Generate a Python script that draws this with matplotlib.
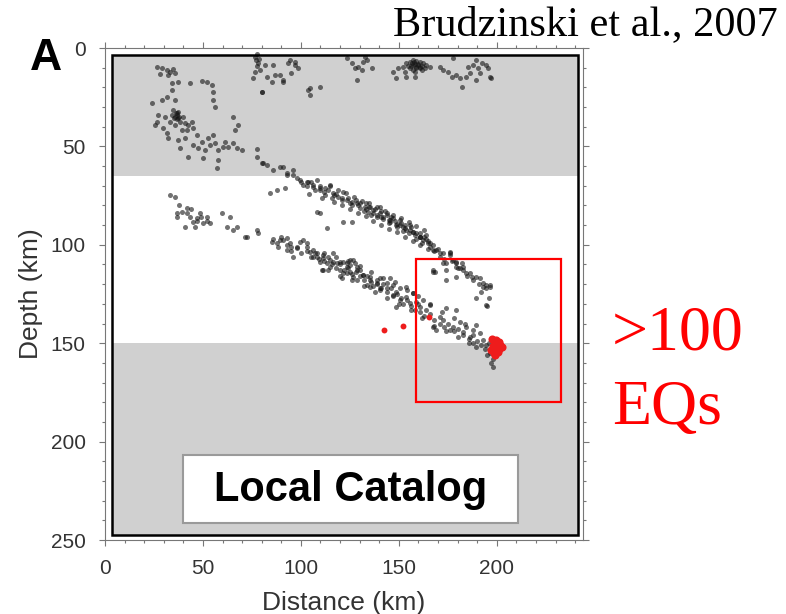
import numpy as np
import matplotlib.pyplot as plt
from matplotlib.patches import Rectangle
from matplotlib.ticker import MultipleLocator

plt.rcParams["font.family"] = ["Liberation Sans", "DejaVu Sans"]

# hypocentres: (distance km, depth km)
shallow = [
    (26.4, 9.5), (28.9, 10.3), (31.5, 11.2), (34.9, 10.8), (28.1, 13.2), (32.3, 13.7), (35.7, 12.9), (33.2, 12.0),
    (37.4, 17.1), (34.0, 17.9), (34.0, 21.3), (31.5, 24.7), (28.9, 26.4), (23.8, 27.8), (35.7, 26.4),
    (43.4, 17.9), (49.3, 16.6), (51.9, 17.1), (54.4, 18.8), (55.3, 22.2), (55.3, 26.4), (56.1, 30.1),
    (34.9, 31.5), (36.6, 33.2), (35.7, 34.9), (37.4, 35.7), (34.0, 34.0), (38.3, 37.4), (40.0, 34.9),
    (40.8, 38.3), (42.5, 39.1), (44.2, 37.4), (45.1, 40.8), (33.2, 37.4), (30.6, 34.9), (27.2, 34.0),
    (26.4, 37.4), (25.5, 39.1), (29.8, 40.8), (31.5, 43.3), (32.3, 45.9), (35.7, 39.1), (39.1, 41.7),
    (41.7, 41.7), (36.0, 33.0), (37.0, 34.0), (36.5, 36.0), (38.0, 35.0), (35.0, 35.5), (37.5, 32.5),
    (37.4, 46.7), (40.8, 45.9), (38.3, 51.0), (42.5, 55.2), (46.8, 44.2), (49.3, 47.6), (47.6, 51.0),
    (51.0, 51.8), (52.7, 45.9), (55.3, 44.2), (56.1, 48.4), (57.8, 51.8), (60.4, 50.1), (62.9, 50.1),
    (65.5, 48.4), (67.2, 51.0), (69.7, 51.8), (66.3, 41.7), (68.0, 39.1), (65.5, 34.9), (57.8, 56.9),
    (57.0, 61.1), (50.2, 56.0), (77.4, 51.5), (61.2, 47.6), (53.6, 49.3), (45.1, 49.3),
    (76.5, 4.4), (78.2, 7.8), (79.1, 11.2), (75.7, 15.4), (79.9, 22.2), (82.5, 14.6), (85.0, 17.1),
    (86.7, 13.7), (89.3, 13.7), (91.0, 17.1), (93.5, 7.8), (97.0, 6.9), (98.6, 10.3), (103.7, 21.3),
    (104.6, 23.9), (95.2, 12.9), (81.6, 8.6), (104.6, 20.5), (109.7, 19.7), (85.9, 8.7), (91.0, 16.3),
    (94.4, 6.1), (97.0, 8.7), (80.0, 22.2), (77.5, 3.0), (78.5, 5.5), (77.0, 6.0), (77.5, 9.0), (76.8, 12.0),
    (123.3, 5.3), (125.9, 7.8), (127.6, 10.4), (129.3, 9.5), (128.4, 16.3), (131.8, 7.0), (133.5, 6.1),
    (136.1, 10.4), (132.7, 4.4), (131.0, 11.2),
    (147.1, 12.1), (149.7, 10.4), (152.2, 9.5), (153.9, 7.8), (155.6, 7.0), (157.3, 6.1), (159.0, 6.6),
    (160.7, 7.0), (162.4, 7.8), (164.1, 8.7), (165.8, 9.5), (157.3, 8.7), (159.0, 10.4), (161.6, 11.2),
    (155.6, 10.4), (153.1, 12.1), (148.8, 15.4), (153.9, 14.6), (158.2, 14.6), (160.7, 9.5), (163.3, 10.4),
    (156.5, 7.8), (159.9, 8.3), (156.0, 9.0), (157.0, 11.0), (158.0, 8.0), (159.0, 9.5), (160.0, 8.5),
    (161.0, 10.0), (157.5, 7.0), (158.5, 12.0), (154.5, 9.0), (162.0, 9.0),
    (170.9, 9.5), (172.6, 11.2), (175.2, 12.1), (176.9, 14.6), (179.4, 13.7), (181.1, 15.4), (182.0, 19.7),
    (184.5, 14.6), (186.2, 12.9), (188.0, 8.7), (189.6, 6.1), (190.5, 10.4), (192.2, 7.8), (194.7, 8.7),
    (195.6, 10.4), (196.4, 14.6), (197.3, 15.4), (189.6, 16.3), (177.7, 5.3), (185.4, 9.5), (191.3, 12.9),
]

upper_slab = [
    (77.4, 55.2), (79.9, 58.6), (80.6, 58.4), (82.5, 59.5), (85.9, 62.0), (89.3, 60.3), (92.7, 63.7),
    (96.1, 64.5), (99.5, 67.1), (102.9, 67.9), (106.3, 69.6), (109.7, 71.3), (112.2, 74.7), (108.0, 83.2),
    (84.2, 73.8), (88.0, 72.0), (92.0, 71.0),
    (91.0, 60.3), (92.7, 64.5), (96.1, 62.0), (97.8, 66.2), (101.2, 69.6), (103.8, 67.9), (106.3, 70.5),
    (108.0, 67.1), (109.7, 72.1), (112.3, 71.3), (114.8, 69.6), (116.5, 73.8), (119.1, 75.5), (121.6, 73.0),
    (123.3, 77.2), (125.9, 78.1), (128.4, 78.9), (130.1, 81.5), (132.7, 80.6), (134.4, 83.2), (136.9, 82.3),
    (138.6, 84.8), (140.3, 80.6), (142.0, 85.7), (143.7, 84.0), (145.4, 88.2), (147.1, 86.5), (148.8, 89.9),
    (150.5, 87.4), (152.2, 90.8), (153.9, 92.5), (155.6, 89.9), (157.3, 93.3), (159.0, 94.2), (160.7, 95.9),
    (162.4, 97.6), (164.1, 95.0), (165.8, 99.2), (167.5, 100.1), (169.2, 102.6), (172.6, 104.3),
    (176.0, 103.5), (177.7, 107.7), (179.4, 111.1), (182.0, 109.4), (184.5, 114.5), (187.1, 116.2),
    (191.3, 117.0), (194.7, 120.4), (196.4, 121.3), (167.5, 112.8), (174.3, 112.8),
    (109.7, 84.0), (121.6, 88.2), (125.9, 88.2), (113.1, 91.6),
    (135.2, 80.6), (140.3, 84.0), (145.4, 87.4), (150.5, 89.9), (155.6, 92.4), (160.7, 95.8), (165.0, 99.2),
    (167.5, 102.6), (170.9, 104.3), (176.0, 105.1), (179.4, 109.4), (181.1, 111.9), (168.4, 113.6),
    (174.3, 109.4), (186.2, 114.5), (189.6, 116.2), (193.0, 121.2), (194.7, 122.1), (189.6, 127.2),
    (194.7, 130.6), (167.5, 113.7), (172.6, 109.4), (176.0, 104.4), (179.4, 116.2), (182.8, 111.1),
    (193.0, 119.6), (196.4, 120.4), (174.3, 117.9), (179.4, 108.6),
    (118, 74), (121, 77), (124, 76), (126, 80), (128, 77), (130, 79), (132, 83), (133, 79), (135, 81),
    (136, 85), (138, 82), (139, 86), (141, 83), (142, 87), (144, 85), (145, 89), (146, 86), (148, 88),
    (149, 91), (151, 89), (152, 93), (153, 90), (155, 94), (156, 91), (158, 95), (159, 97), (161, 94),
    (162, 99), (163, 96), (165, 98), (166, 101), (168, 103), (170, 102), (171, 106), (173, 107), (177, 108),
    (180, 112), (183, 113), (185, 116), (188, 118), (191, 120), (192, 124), (196, 127), (195, 131),
    (100, 68), (103, 70), (105, 68), (107, 72), (110, 70), (112, 73), (114, 72), (116, 76), (104, 74), (111, 76),
    (115, 70), (119, 72), (123, 73.5), (127, 75.5), (131, 77.5), (135, 79), (139, 81), (143, 83), (147, 85),
    (151, 86.5), (155, 88.5), (159, 90.5), (163, 92.5),
    (117, 78), (121, 80), (125, 82), (129, 84), (133, 85.5), (137, 88), (141, 90), (145, 92), (149, 93.5),
    (153, 96), (157, 98), (161, 100), (165, 102),
    (117, 74.5), (121, 76), (125, 78.5), (129, 80), (133, 82), (137, 84), (141, 86), (145, 87.5),
    (149, 89.5), (153, 91.5), (157, 93.5), (161, 96), (164, 97),
]

lower_slab = [
    (33.2, 74.7), (35.8, 75.6), (36.6, 84.0), (39.2, 83.2), (41.7, 81.5), (43.4, 85.7), (45.1, 88.3),
    (46.8, 86.6), (46.0, 90.8), (48.5, 84.0), (50.2, 89.1), (51.9, 85.7), (53.6, 89.1), (40.9, 90.8),
    (38, 80), (42, 84), (44, 82), (47, 88), (49, 86), (52, 88), (37, 86),
    (59.6, 84.0), (63.8, 85.7), (62.1, 90.8), (65.5, 92.5), (67.2, 90.8), (72.3, 95.9), (77.4, 92.5),
    (78.3, 94.2), (71.4, 96.0),
    (85.1, 98.4), (88.5, 101.0), (91.0, 97.6), (92.7, 102.7), (94.4, 99.3), (96.1, 106.1), (97.8, 101.8),
    (101.2, 97.6), (102.9, 101.0), (104.6, 103.5), (106.3, 106.1), (108.0, 104.4), (109.7, 108.6),
    (111.4, 106.9), (113.1, 109.4), (114.8, 111.1), (116.5, 108.6), (119.9, 112.8), (123.3, 114.5),
    (125.0, 110.3), (126.7, 116.2), (128.4, 112.8), (110.6, 112.8), (120.8, 117.1),
    (89.3, 97.5), (92.7, 96.7), (95.2, 100.9), (99.5, 98.4), (102.9, 99.2), (106.3, 102.6), (108.0, 106.0),
    (111.4, 105.2), (114.8, 107.7), (118.2, 109.4), (121.6, 108.6), (123.3, 111.1), (125.0, 107.7),
    (127.6, 109.4), (130.1, 112.8), (131.8, 115.3), (135.2, 116.2), (138.6, 117.9), (140.3, 117.0),
    (143.7, 119.6), (147.1, 120.4), (150.5, 122.1), (153.9, 121.3), (157.3, 124.7), (111.4, 112.8),
    (128.4, 117.9), (135.2, 121.3), (140.3, 122.1),
    (116.5, 104.4), (119.9, 108.6), (123.3, 109.4), (126.7, 107.7), (128.4, 111.1), (125.0, 113.7),
    (121.6, 114.5), (131.8, 115.4), (135.2, 117.9), (133.5, 120.4), (138.6, 119.6), (140.3, 123.0),
    (143.7, 122.1), (147.1, 125.5), (148.8, 123.8), (150.5, 128.1), (153.9, 126.4), (155.6, 129.8),
    (157.3, 124.7), (159.0, 128.9), (160.7, 131.5), (162.4, 128.1), (164.1, 133.2), (165.8, 130.6),
    (167.5, 141.6), (169.2, 143.3), (170.9, 136.5), (172.6, 138.2), (174.3, 132.3), (176.0, 143.3),
    (177.7, 141.6), (179.4, 133.1), (181.1, 139.1), (182.8, 144.2), (184.5, 141.6), (186.2, 146.7),
    (187.9, 143.3), (189.6, 140.8), (191.3, 145.0), (193.0, 148.4), (189.6, 151.8), (187.9, 150.1),
    (194.7, 151.0), (196.4, 155.2), (198.1, 162.0), (197.3, 160.3), (148.8, 131.5), (145.4, 117.1),
    (116, 110), (118, 112), (120, 110), (122, 113), (124, 112), (126, 115), (128, 114), (130, 116),
    (132, 118), (134, 116), (136, 119), (137, 121), (139, 120), (141, 122), (142, 120), (144, 124),
    (146, 122), (147, 126), (149, 125), (151, 127), (152, 130), (154, 128), (156, 131), (158, 133),
    (160, 130), (161, 134), (163, 136), (166, 135), (168, 138), (171, 140), (173, 142), (175, 140),
    (178, 144), (180, 143), (183, 146), (186, 148), (188, 146), (190, 149), (192, 151), (194, 153),
    (196, 150), (195, 156), (198, 158),
    (86, 97), (88, 99), (90, 96), (93, 100), (95, 103), (98, 101), (100, 104), (103, 103), (105, 106),
    (107, 104), (109, 107), (112, 108), (114, 106),
    (112, 104), (118, 106), (124, 108), (130, 111), (136, 114), (142, 117), (148, 119), (154, 123),
    (160, 126), (166, 130), (172, 134), (178, 137), (184, 140),
    (114, 113), (120, 116), (126, 118), (132, 121), (138, 124), (144, 127), (150, 130), (156, 133),
    (162, 137), (168, 141), (174, 144), (180, 147), (186, 150),
]

# the >100 repeating events (red)
red_dist = [142.5, 152.3, 165.4, 197.5, 198.5, 199.5, 200.5, 201.5, 198.0, 199.0, 200.0,
            201.0, 199.5, 198.5, 200.5, 199.0, 200.0, 202.5, 197.0, 201.0]
red_depth = [143.3, 141.5, 136.6, 148.0, 149.0, 148.5, 150.0, 151.0, 151.5, 152.0, 152.5,
             153.0, 154.0, 155.0, 154.5, 156.0, 150.5, 152.0, 153.5, 149.5]

shaded_depths = [(3.5, 65), (150, 247.5)]
box_dist = (159, 233)
box_depth = (107, 180)

fig = plt.figure(figsize=(7.86, 6.14), dpi=100)
ax = fig.add_axes([0.1336, 0.1205, 0.6081, 0.8013])
ax.set_xlim(0, 244)
ax.set_ylim(250, 0)

frame_x0, frame_x1 = 3.5, 241.3
for top, bottom in shaded_depths:
    ax.add_patch(Rectangle((frame_x0, top), frame_x1 - frame_x0, bottom - top,
                           fc="#d0d0d0", ec="none", zorder=0))
ax.add_patch(Rectangle((frame_x0, 3.5), frame_x1 - frame_x0, 244, fill=False,
                       ec="black", lw=1.8, zorder=5))

for group in (shallow, upper_slab, lower_slab):
    dist, depth = np.array(group).T
    ax.scatter(dist, depth, s=13, c="#151515", alpha=0.6, linewidths=0, zorder=3)

ax.scatter(red_dist[:3], red_depth[:3], s=18, c="#ee1c1c", linewidths=0, zorder=4)
ax.scatter(red_dist[3:], red_depth[3:], s=34, c="#ee1c1c", linewidths=0, zorder=4)

ax.add_patch(Rectangle((box_dist[0], box_depth[0]), box_dist[1] - box_dist[0],
                       box_depth[1] - box_depth[0], fill=False, ec="red", lw=1.6, zorder=6))

ax.add_patch(Rectangle((40, 207), 171, 34.5, fc="white", ec="#9a9a9a", lw=1.5, zorder=4))
ax.text(125.5, 224.5, "Local Catalog", fontsize=30, fontweight="bold",
        ha="center", va="center", zorder=5)

ax.xaxis.set_major_locator(MultipleLocator(50))
ax.xaxis.set_minor_locator(MultipleLocator(10))
ax.yaxis.set_major_locator(MultipleLocator(50))
ax.yaxis.set_minor_locator(MultipleLocator(10))
ax.tick_params(which="both", direction="out", top=True, right=True, color="#777777", width=0.8)
ax.tick_params(which="major", length=4, labelsize=15, labelcolor="#333333", pad=10)
ax.tick_params(which="minor", length=2.5)
for s in ax.spines.values():
    s.set_color("#777777")
    s.set_linewidth(0.8)

ax.set_xlabel("Distance (km)", fontsize=19, color="#333333", labelpad=9)
ax.set_ylabel("Depth (km)", fontsize=19, color="#333333", labelpad=5)

fig.text(0.0585, 0.9055, "A", fontsize=32, fontweight="bold", ha="center", va="center")
fig.text(778 / 786, 1 - 6 / 614, "Brudzinski et al., 2007", family="Liberation Serif",
         fontsize=30.5, ha="right", va="top")
fig.text(612 / 786, 1 - 350 / 614, ">100", family="Liberation Serif", fontsize=46,
         color="red", ha="left", va="baseline")
fig.text(612 / 786, 1 - 424 / 614, "EQs", family="Liberation Serif", fontsize=46,
         color="red", ha="left", va="baseline")

fig.savefig("out.png", dpi=100)
